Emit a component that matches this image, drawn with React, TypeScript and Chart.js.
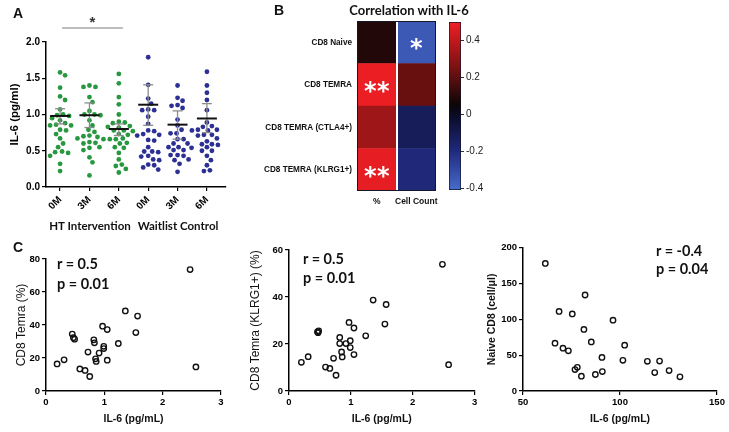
import React, { useEffect, useRef } from 'react';
import { Chart, registerables } from 'chart.js';

Chart.register(...registerables);

// ---------------- Panel A data ----------------
const timeLabels = ['0M', '3M', '6M', '0M', '3M', '6M'];
const htMonth0 = [1.58, 1.54, 1.37, 1.25, 1.2, 1.07, 1.0, 0.99, 0.98, 0.95, 0.92, 0.88, 0.86, 0.85, 0.85, 0.79, 0.78, 0.73, 0.67, 0.6, 0.55, 0.49, 0.48, 0.47, 0.43, 0.32, 0.22];
const htMonth3 = [1.4, 1.38, 1.38, 1.24, 1.17, 1.05, 1.0, 1.0, 0.99, 0.92, 0.85, 0.79, 0.76, 0.71, 0.7, 0.69, 0.67, 0.66, 0.62, 0.61, 0.6, 0.55, 0.54, 0.51, 0.41, 0.34, 0.16];
const htMonth6 = [1.56, 1.43, 1.24, 1.14, 1.0, 0.9, 0.89, 0.88, 0.84, 0.83, 0.82, 0.78, 0.78, 0.77, 0.73, 0.72, 0.67, 0.66, 0.66, 0.61, 0.6, 0.55, 0.54, 0.47, 0.38, 0.31, 0.29, 0.25, 0.2];
const wcMonth0 = [1.79, 1.41, 1.22, 1.15, 1.07, 1.06, 1.06, 0.97, 0.87, 0.78, 0.77, 0.73, 0.72, 0.71, 0.65, 0.64, 0.55, 0.49, 0.49, 0.48, 0.43, 0.42, 0.38, 0.37, 0.31, 0.3, 0.27, 0.24];
const wcMonth3 = [1.4, 1.23, 1.19, 1.13, 1.12, 1.09, 0.93, 0.85, 0.79, 0.74, 0.74, 0.66, 0.66, 0.6, 0.6, 0.55, 0.55, 0.54, 0.51, 0.51, 0.44, 0.44, 0.43, 0.38, 0.37, 0.32, 0.21];
const wcMonth6 = [1.59, 1.4, 1.3, 1.2, 1.06, 0.89, 0.84, 0.83, 0.79, 0.79, 0.78, 0.78, 0.72, 0.72, 0.71, 0.67, 0.63, 0.59, 0.59, 0.58, 0.55, 0.5, 0.5, 0.43, 0.37, 0.3, 0.23, 0.22];
const groupMeans = [0.98, 0.99, 0.8, 1.135, 0.86, 0.945];
const groupErrLow = [0.87, 0.82, 0.71, 0.85, 0.66, 0.75];
const groupErrHigh = [1.08, 1.16, 0.87, 1.41, 1.05, 1.15];
const yTicksA = [0, 0.5, 1.0, 1.5, 2.0];
const sigPair = [0, 2];

// ---------------- Panel B data ----------------
const heatRows = ['CD8 Naive', 'CD8 TEMRA', 'CD8 TEMRA (CTLA4+)', 'CD8 TEMRA (KLRG1+)'];
const heatCols = ['%', 'Cell Count'];
const corrPercent = [0.09, 0.49, 0.33, 0.48];
const corrCount = [-0.35, 0.22, -0.12, -0.19];
const starsPercent = ['', '**', '', '**'];
const starsCount = ['*', '', '', ''];
const colorbarTicks = [-0.4, -0.2, 0, 0.2, 0.4];
const colorbarTickLabels = ['-0.4', '-0.2', '0', '0.2', '0.4'];
const cbMin = -0.41;
const cbMax = 0.5;

// ---------------- Panel C data ----------------
const c1IL6 = [0.19, 0.31, 0.45, 0.47, 0.49, 0.58, 0.67, 0.72, 0.75, 0.82, 0.83, 0.85, 0.86, 0.91, 0.97, 0.99, 0.99, 1.05, 1.05, 1.24, 1.36, 1.54, 1.57, 2.47, 2.57];
const c1Temra = [16.4, 18.9, 34.5, 32.3, 31.4, 13.4, 12.5, 23.6, 8.8, 31.0, 29.2, 19.5, 17.9, 23.0, 39.3, 27.1, 25.7, 37.2, 18.7, 28.8, 48.5, 35.4, 45.4, 73.6, 14.6];
const c2IL6 = [0.2, 0.31, 0.46, 0.47, 0.48, 0.59, 0.66, 0.72, 0.76, 0.82, 0.82, 0.85, 0.86, 0.92, 0.97, 0.99, 0.99, 1.05, 1.05, 1.24, 1.36, 1.55, 1.57, 2.48, 2.58];
const c2Klrg1 = [12.2, 14.6, 25.2, 24.8, 25.6, 10.2, 9.6, 13.9, 6.7, 22.8, 20.2, 16.6, 14.5, 20.2, 29.2, 21.4, 18.5, 26.8, 15.5, 23.5, 38.7, 28.5, 36.8, 53.9, 11.2];
const c3IL6 = [61.5, 68.6, 75.4, 82.0, 66.5, 70.6, 73.4, 81.4, 85.2, 96.4, 102.4, 90.7, 101.5, 76.8, 78.0, 80.1, 87.3, 90.9, 114.1, 117.9, 120.4, 125.3, 130.9];
const c3Naive = [178, 111, 107.6, 134, 66.7, 59.8, 56.1, 86, 68.5, 98.9, 63.9, 46.9, 42.8, 29.9, 33.1, 20.7, 23, 27.1, 41.4, 25.7, 41.8, 28.5, 19.8];

// ---------------- styles ----------------
const ARIAL = "'Liberation Sans', Arial, sans-serif";
const CAL = "Lato, 'Open Sans', sans-serif";
const GREEN = '#27983f';
const BLUE = '#2c2f93';

const cmapStops: [number, number[]][] = [
  [-0.41, [72, 108, 205]],
  [-0.2, [32, 42, 125]],
  [0.0, [10, 10, 35]],
  [0.05, [12, 6, 6]],
  [0.25, [120, 18, 18]],
  [0.5, [240, 30, 36]],
];
const rgb = (c: number[]) => `rgb(${c.map((v) => Math.round(v)).join(',')})`;
function corrColor(v: number) {
  if (v <= cmapStops[0][0]) return rgb(cmapStops[0][1]);
  for (let i = 1; i < cmapStops.length; i++) {
    const [v1, c1] = cmapStops[i];
    const [v0, c0] = cmapStops[i - 1];
    if (v <= v1) {
      const t = (v - v0) / (v1 - v0);
      return rgb(c0.map((c, k) => c + (c1[k] - c) * t));
    }
  }
  return rgb(cmapStops[cmapStops.length - 1][1]);
}

function swarm(vals: number[], pxY: number, pxX: number, diam: number) {
  const order = vals.map((_, i) => i).sort((a, b) => vals[b] - vals[a]);
  const placed: { x: number; y: number }[] = [];
  const offs = new Array(vals.length).fill(0);
  for (const i of order) {
    const y = vals[i] * pxY;
    for (let k = 0; k < 60; k++) {
      const c = k === 0 ? 0 : (k % 2 ? 1 : -1) * Math.ceil(k / 2);
      if (placed.every((p) => (p.x - c) ** 2 + (p.y - y) ** 2 >= diam * diam)) {
        placed.push({ x: c, y });
        offs[i] = c / pxX;
        break;
      }
    }
  }
  return offs;
}

type Box = { left: number; top: number; width: number; height: number };

function ChartCanvas({ box, build }: { box: Box; build: () => any }) {
  const ref = useRef<HTMLCanvasElement | null>(null);
  useEffect(() => {
    const chart = new Chart(ref.current as HTMLCanvasElement, build());
    return () => chart.destroy();
  }, []);
  return (
    <canvas
      ref={ref}
      width={box.width}
      height={box.height}
      style={{ position: 'absolute', left: box.left, top: box.top, width: box.width, height: box.height }}
    />
  );
}

const axisGrid = { display: true, drawOnChartArea: false, drawTicks: true, tickLength: 4, color: '#000', lineWidth: 1.2 };
const axisBorder = { display: true, color: '#000', width: 1.5 };

// ---------------- Panel A ----------------
const A_BOX = { left: 0, top: 0, width: 250, height: 232 };
const A_AREA = { left: 46, right: 226, top: 42, bottom: 187 };
const A_XMIN = -0.48;
const A_XMAX = 5.65;

function buildA() {
  const groups = [htMonth0, htMonth3, htMonth6, wcMonth0, wcMonth3, wcMonth6];
  const pxX = (A_AREA.right - A_AREA.left) / (A_XMAX - A_XMIN);
  const pxY = (A_AREA.bottom - A_AREA.top) / 2;
  const pts = groups.map((vals, g) => {
    const offs = swarm(vals, pxY, pxX, 5.6);
    return vals.map((v, i) => ({ x: g + offs[i], y: v }));
  });
  const green = pts.slice(0, 3).flat();
  const blue = pts.slice(3).flat();
  const errLine: any[] = [];
  groupMeans.forEach((_, g) => {
    errLine.push({ x: g, y: groupErrLow[g] }, { x: g, y: groupErrHigh[g] }, { x: g, y: null });
  });
  const caps = groupMeans.flatMap((_, g) => [
    { x: g, y: groupErrLow[g] },
    { x: g, y: groupErrHigh[g] },
  ]);
  const means = groupMeans.map((m, g) => ({ x: g, y: m }));
  const sigPlugin = {
    id: 'sig',
    afterDraw(chart: any) {
      const { ctx, scales } = chart;
      const x0 = scales.x.getPixelForValue(sigPair[0]);
      const x1 = scales.x.getPixelForValue(sigPair[1]);
      const y = chart.chartArea.top - 14;
      ctx.save();
      ctx.strokeStyle = '#7a7a7a';
      ctx.lineWidth = 1.2;
      ctx.beginPath();
      ctx.moveTo(x0 + 2, y);
      ctx.lineTo(x1 + 4, y);
      ctx.stroke();
      ctx.fillStyle = '#333';
      ctx.font = `bold 15px ${ARIAL}`;
      ctx.textAlign = 'center';
      ctx.textBaseline = 'alphabetic';
      ctx.fillText('*', (x0 + x1) / 2 + 3, y - 1);
      ctx.restore();
    },
  };
  return {
    type: 'scatter',
    data: {
      datasets: [
        { data: means, pointStyle: 'line', pointRadius: 10, pointBorderWidth: 2, pointBorderColor: '#111', order: 0 },
        { data: caps, pointStyle: 'line', pointRadius: 5, pointBorderWidth: 1.3, pointBorderColor: '#8c8c8c', order: 1 },
        { type: 'line', data: errLine, borderColor: '#8c8c8c', borderWidth: 1.3, pointRadius: 0, spanGaps: false, order: 1 },
        { data: green, pointRadius: 2.4, pointBorderWidth: 0, pointBackgroundColor: GREEN, order: 2 },
        { data: blue, pointRadius: 2.4, pointBorderWidth: 0, pointBackgroundColor: BLUE, order: 2 },
      ],
    },
    options: {
      responsive: false,
      animation: false,
      layout: { padding: { top: A_AREA.top, right: A_BOX.width - A_AREA.right, left: 0, bottom: 0 } },
      plugins: { legend: { display: false }, tooltip: { enabled: false } },
      scales: {
        x: {
          type: 'linear',
          min: A_XMIN,
          max: A_XMAX,
          afterBuildTicks: (s: any) => {
            s.ticks = timeLabels.map((_, i) => ({ value: i }));
          },
          afterFit: (s: any) => {
            s.height = A_BOX.height - A_AREA.bottom;
          },
          ticks: {
            autoSkip: false,
            minRotation: 45,
            maxRotation: 45,
            padding: 3,
            color: '#000',
            font: { family: ARIAL, size: 10, weight: 'bold' },
            callback: (_v: any, i: number) => timeLabels[i],
          },
          grid: axisGrid,
          border: axisBorder,
        },
        y: {
          type: 'linear',
          min: 0,
          max: 2,
          afterBuildTicks: (s: any) => {
            s.ticks = yTicksA.map((v) => ({ value: v }));
          },
          afterFit: (s: any) => {
            s.width = A_AREA.left;
          },
          ticks: {
            padding: 2,
            color: '#000',
            font: { family: ARIAL, size: 10, weight: 'bold' },
            callback: (v: any) => Number(v).toFixed(1),
          },
          grid: axisGrid,
          border: axisBorder,
          title: {
            display: true,
            text: 'IL-6 (pg/ml)',
            color: '#000',
            font: { family: ARIAL, size: 11.5, weight: 'bold' },
            padding: { top: 8, bottom: 0 },
          },
        },
      },
    },
    plugins: [sigPlugin],
  };
}

// ---------------- Panel B (heatmap) ----------------
const B_BOX = { left: 248, top: 0, width: 204, height: 215 };
const B_AREA = { left: 357, right: 436, top: 21, bottom: 191 };

function buildB() {
  const starPlugin = {
    id: 'stars',
    afterDraw(chart: any) {
      const { ctx, scales } = chart;
      const size = 24;
      ctx.save();
      ctx.fillStyle = '#fff';
      ctx.font = `bold ${size}px 'DejaVu Sans', sans-serif`;
      ctx.textAlign = 'center';
      ctx.textBaseline = 'alphabetic';
      heatRows.forEach((_, r) => {
        [starsPercent[r], starsCount[r]].forEach((s, c) => {
          if (!s) return;
          const cx = scales.x.getPixelForValue(c + 0.5);
          const cy = scales.y.getPixelForValue(r);
          for (let k = 0; k < s.length; k++) {
            ctx.fillText('*', cx + (k - (s.length - 1) / 2) * 13, cy + size * 0.58);
          }
        });
      });
      const a = chart.chartArea;
      ctx.strokeStyle = '#16162a';
      ctx.lineWidth = 1;
      ctx.strokeRect(a.left + 0.5, a.top + 0.5, a.right - a.left - 1, a.bottom - a.top - 1);
      ctx.restore();
    },
  };
  const common = { borderWidth: 0, barPercentage: 1, categoryPercentage: 1, grouped: false };
  return {
    type: 'bar',
    data: {
      labels: heatRows,
      datasets: [
        { ...common, data: heatRows.map(() => [0, 1]), backgroundColor: corrPercent.map(corrColor) },
        { ...common, data: heatRows.map(() => [1, 2]), backgroundColor: corrCount.map(corrColor) },
      ],
    },
    options: {
      indexAxis: 'y',
      responsive: false,
      animation: false,
      layout: { padding: { top: B_AREA.top - B_BOX.top, right: B_BOX.left + B_BOX.width - B_AREA.right, left: 0, bottom: 0 } },
      plugins: { legend: { display: false }, tooltip: { enabled: false } },
      scales: {
        x: {
          type: 'linear',
          min: 0,
          max: 2,
          afterBuildTicks: (s: any) => {
            s.ticks = [{ value: 0.5 }, { value: 1 }, { value: 1.5 }];
          },
          afterFit: (s: any) => {
            s.height = B_BOX.top + B_BOX.height - B_AREA.bottom;
          },
          ticks: {
            autoSkip: false,
            maxRotation: 0,
            padding: 6,
            color: '#111',
            font: { family: ARIAL, size: 8.5, weight: 'bold' },
            callback: (_v: any, i: number) => (i === 0 ? heatCols[0] : i === 2 ? heatCols[1] : ''),
          },
          grid: {
            color: (c: any) => (c.tick && c.tick.value === 1 ? '#ffffff' : 'rgba(0,0,0,0)'),
            lineWidth: 2,
            drawTicks: false,
            z: 1,
          },
          border: { display: false },
        },
        y: {
          type: 'category',
          afterFit: (s: any) => {
            s.width = B_AREA.left - B_BOX.left;
          },
          ticks: { padding: 5, color: '#111', font: { family: ARIAL, size: 8.2, weight: 'bold' } },
          grid: { display: false, drawTicks: false, tickLength: 0 },
          border: { display: false },
        },
      },
    },
    plugins: [starPlugin],
  };
}

// ---------------- Colorbar ----------------
const CB_BOX = { left: 440, top: 10, width: 60, height: 195 };
const CB_AREA = { left: 449, right: 461, top: 22, bottom: 190 };

function buildColorbar() {
  const gradient = (ctx: any) => {
    const ch = ctx.chart;
    const ys = ch.scales && ch.scales.y;
    if (!ch.chartArea || !ys) return '#000';
    const y0 = ys.getPixelForValue(cbMin);
    const y1 = ys.getPixelForValue(cbMax);
    const g = ch.ctx.createLinearGradient(0, y0, 0, y1);
    cmapStops.forEach(([v, c]) => g.addColorStop((v - cbMin) / (cbMax - cbMin), rgb(c)));
    return g;
  };
  return {
    type: 'bar',
    data: {
      labels: [''],
      datasets: [
        {
          data: [[cbMin, cbMax]],
          backgroundColor: gradient,
          borderColor: '#15152a',
          borderWidth: 1,
          borderSkipped: false,
          barPercentage: 1,
          categoryPercentage: 1,
        },
      ],
    },
    options: {
      responsive: false,
      animation: false,
      layout: {
        padding: {
          left: CB_AREA.left - CB_BOX.left,
          top: CB_AREA.top - CB_BOX.top,
          bottom: CB_BOX.top + CB_BOX.height - CB_AREA.bottom,
          right: 0,
        },
      },
      plugins: { legend: { display: false }, tooltip: { enabled: false } },
      scales: {
        x: { display: false },
        y: {
          position: 'right',
          min: cbMin,
          max: cbMax,
          afterBuildTicks: (s: any) => {
            s.ticks = colorbarTicks.map((v) => ({ value: v }));
          },
          afterFit: (s: any) => {
            s.width = CB_BOX.left + CB_BOX.width - CB_AREA.right;
          },
          ticks: {
            padding: 2,
            color: '#222',
            font: { family: ARIAL, size: 10 },
            callback: (_v: any, i: number) => colorbarTickLabels[i],
          },
          grid: { drawOnChartArea: false, drawTicks: true, tickLength: 3, color: '#333' },
          border: { display: false },
        },
      },
    },
  };
}

// ---------------- Panel C ----------------
type ScatterSpec = {
  box: Box;
  area: { left: number; right: number; top: number; bottom: number };
  xs: number[];
  ys: number[];
  xMin: number;
  xMax: number;
  xStep: number;
  yMin: number;
  yMax: number;
  yStep: number;
  yTitle: string;
  yTitleFont: any;
  yTitlePad: number;
};

function buildScatter(sp: ScatterSpec) {
  return () => ({
    type: 'scatter',
    data: {
      datasets: [
        {
          data: sp.xs.map((x, i) => ({ x, y: sp.ys[i] })),
          pointRadius: 2.7,
          pointBorderWidth: 1.4,
          pointBorderColor: '#111',
          pointBackgroundColor: 'rgba(0,0,0,0)',
        },
      ],
    },
    options: {
      responsive: false,
      animation: false,
      layout: {
        padding: {
          top: sp.area.top - sp.box.top,
          right: sp.box.left + sp.box.width - sp.area.right,
          left: 0,
          bottom: 0,
        },
      },
      plugins: { legend: { display: false }, tooltip: { enabled: false } },
      scales: {
        x: {
          type: 'linear',
          min: sp.xMin,
          max: sp.xMax,
          afterFit: (s: any) => {
            s.height = sp.box.top + sp.box.height - sp.area.bottom;
          },
          ticks: { stepSize: sp.xStep, padding: 2, color: '#000', font: { family: ARIAL, size: 9.5, weight: 'bold' } },
          grid: axisGrid,
          border: axisBorder,
          title: {
            display: true,
            text: 'IL-6 (pg/mL)',
            color: '#111',
            font: { family: ARIAL, size: 10.5, weight: 'bold' },
            padding: { top: 0, bottom: 7 },
          },
        },
        y: {
          type: 'linear',
          min: sp.yMin,
          max: sp.yMax,
          afterFit: (s: any) => {
            s.width = sp.area.left - sp.box.left;
          },
          ticks: { stepSize: sp.yStep, padding: 2, color: '#000', font: { family: ARIAL, size: 9.5, weight: 'bold' } },
          grid: axisGrid,
          border: axisBorder,
          title: {
            display: true,
            text: sp.yTitle,
            color: '#111',
            font: sp.yTitleFont,
            padding: { top: sp.yTitlePad, bottom: 0 },
          },
        },
      },
    },
  });
}

const C_BOTTOM = 391;
const c1Spec: ScatterSpec = {
  box: { left: 0, top: 240, width: 240, height: 192 },
  area: { left: 46, right: 221, top: 259, bottom: C_BOTTOM },
  xs: c1IL6,
  ys: c1Temra,
  xMin: 0,
  xMax: 3,
  xStep: 1,
  yMin: 0,
  yMax: 80,
  yStep: 20,
  yTitle: 'CD8 Temra (%)',
  yTitleFont: { family: ARIAL, size: 12 },
  yTitlePad: 14,
};
const c2Spec: ScatterSpec = {
  box: { left: 240, top: 240, width: 240, height: 192 },
  area: { left: 289, right: 477, top: 250, bottom: C_BOTTOM },
  xs: c2IL6,
  ys: c2Klrg1,
  xMin: 0,
  xMax: 3,
  xStep: 1,
  yMin: 0,
  yMax: 60,
  yStep: 20,
  yTitle: 'CD8 Temra (KLRG1+) (%)',
  yTitleFont: { family: ARIAL, size: 12 },
  yTitlePad: 8,
};
const c3Spec: ScatterSpec = {
  box: { left: 480, top: 240, width: 249, height: 192 },
  area: { left: 523, right: 717, top: 247, bottom: C_BOTTOM },
  xs: c3IL6,
  ys: c3Naive,
  xMin: 50,
  xMax: 150,
  xStep: 50,
  yMin: 0,
  yMax: 200,
  yStep: 50,
  yTitle: 'Naive CD8 (cell/μl)',
  yTitleFont: { family: ARIAL, size: 10.5, weight: 'bold' },
  yTitlePad: 6,
};

// ---------------- text helper ----------------
function Txt({ x, y, text, size, family, weight = 'bold', align = 'left' }: any) {
  const tx = align === 'center' ? '-50%' : '0';
  return (
    <div
      style={{
        position: 'absolute',
        left: x,
        top: y,
        transform: `translate(${tx}, -50%)`,
        fontFamily: family,
        fontSize: size,
        fontWeight: weight,
        lineHeight: 1,
        whiteSpace: 'nowrap',
        color: '#111',
      }}
    >
      {text}
    </div>
  );
}

export default function App() {
  return (
    <div
      style={{
        position: 'fixed',
        left: 0,
        top: 0,
        width: 729,
        height: 432,
        background: '#fff',
        overflow: 'hidden',
      }}
    >
      <ChartCanvas box={A_BOX} build={buildA} />
      <ChartCanvas box={B_BOX} build={buildB} />
      <ChartCanvas box={CB_BOX} build={buildColorbar} />
      <ChartCanvas box={c1Spec.box} build={buildScatter(c1Spec)} />
      <ChartCanvas box={c2Spec.box} build={buildScatter(c2Spec)} />
      <ChartCanvas box={c3Spec.box} build={buildScatter(c3Spec)} />

      <Txt x={13} y={12.5} text="A" size={14} family={ARIAL} />
      <Txt x={274} y={9.5} text="B" size={14} family={ARIAL} />
      <Txt x={13} y={246.5} text="C" size={14} family={ARIAL} />

      <Txt x={90} y={226} text="HT Intervention" size={11.5} family={CAL} align="center" />
      <Txt x={178} y={226} text="Waitlist Control" size={11.5} family={CAL} align="center" />
      <Txt x={409} y={10} text="Correlation with IL-6" size={13} family={CAL} align="center" />

      <Txt x={57} y={264} text="r = 0.5" size={14.5} family={CAL} />
      <Txt x={57} y={284} text="p = 0.01" size={14.5} family={CAL} />
      <Txt x={303} y={258.5} text="r = 0.5" size={14.5} family={CAL} />
      <Txt x={303} y={278} text="p = 0.01" size={14.5} family={CAL} />
      <Txt x={656} y={251} text="r = -0.4" size={14.5} family={CAL} />
      <Txt x={656} y={269} text="p = 0.04" size={14.5} family={CAL} />
    </div>
  );
}
